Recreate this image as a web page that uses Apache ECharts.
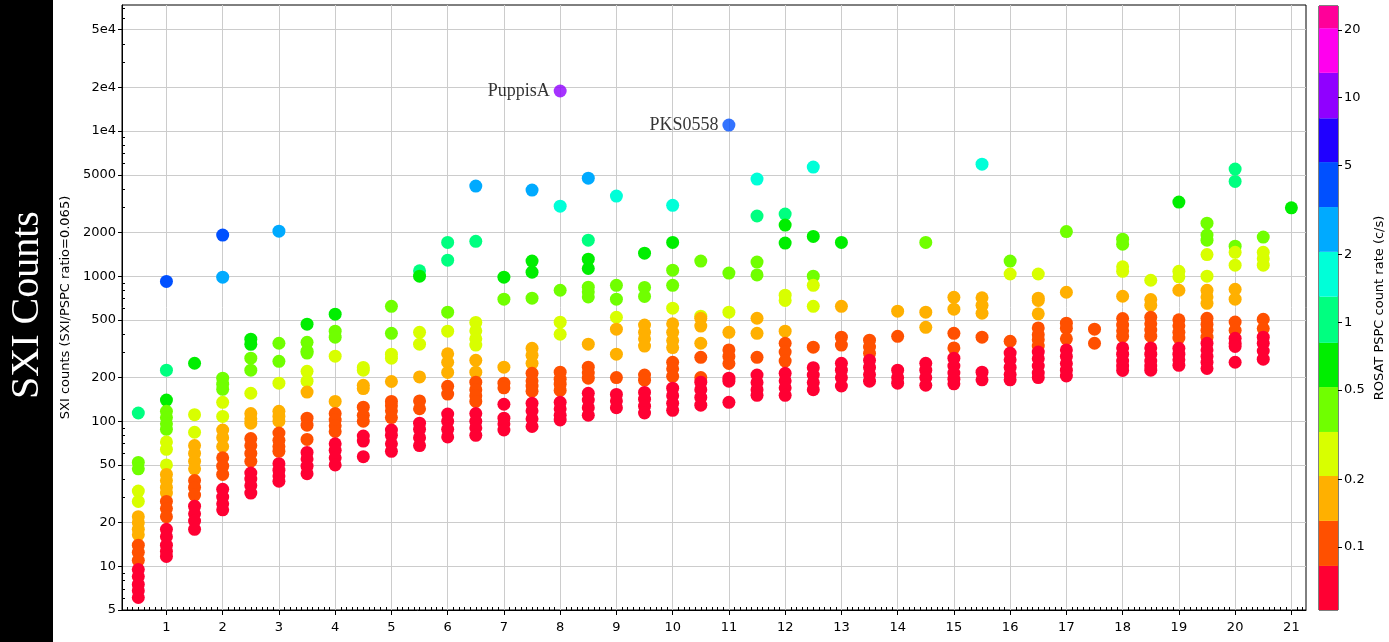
<!DOCTYPE html>
<html>
<head>
<meta charset="utf-8">
<script src="https://cdn.jsdelivr.net/npm/echarts@6/dist/echarts.min.js"></script>
<style>
  html, body { margin: 0; background: #fff; }
  #chart { width: 1389px; height: 642px; }
</style>
</head>
<body>
<div id="chart"></div>
<script>
// sources as [x, SXI counts], one array per ROSAT PSPC count-rate band
const red = [
  [0.5,9.5],[0.5,8.5],[0.5,7.5],[0.5,6.8],[0.5,6.1],
  [1,18],[1,16],[1,14],[1,12.7],[1,11.7],
  [1.5,26],[1.5,23],[1.5,20.5],[1.5,18],
  [2,34],[2,30],[2,27],[2,24.5],
  [2.5,44],[2.5,40],[2.5,36],[2.5,32],
  [3,51],[3,46],[3,42],[3,38.6],
  [3.5,61],[3.5,55],[3.5,49],[3.5,43.5],
  [4,70],[4,63],[4,56],[4,50],
  [4.5,79],[4.5,73],[4.5,57],
  [5,87],[5,80],[5,70],[5,62],
  [5.5,97],[5.5,88],[5.5,77],[5.5,68],
  [6,112],[6,100],[6,88],[6,78],
  [6.5,113],[6.5,100],[6.5,90],[6.5,80],
  [7,131],[7,105],[7,96],[7,87],
  [7.5,133],[7.5,118],[7.5,104],[7.5,92],
  [8,135],[8,122],[8,110],[8,102],
  [8.5,156],[8.5,140],[8.5,124],[8.5,110],
  [9,153],[9,138],[9,124],
  [9.5,158],[9.5,142],[9.5,127],[9.5,114],
  [10,169],[10,150],[10,133],[10,119],
  [10.5,186],[10.5,165],[10.5,146],[10.5,129],
  [11,198],[11,189],[11,135],
  [11.5,208],[11.5,185],[11.5,165],[11.5,151],
  [12,214],[12,190],[12,170],[12,151],
  [12.5,234],[12.5,208],[12.5,185],[12.5,165],
  [13,251],[13,225],[13,200],[13,175],
  [13.5,263],[13.5,235],[13.5,210],[13.5,189],
  [14,225],[14,200],[14,183],
  [14.5,251],[14.5,225],[14.5,200],[14.5,177],
  [15,272],[15,240],[15,215],[15,195],[15,181],
  [15.5,218],[15.5,193],
  [16,295],[16,265],[16,235],[16,210],[16,193],
  [16.5,300],[16.5,270],[16.5,240],[16.5,215],[16.5,200],
  [17,310],[17,280],[17,250],[17,225],[17,205],
  [18,320],[18,290],[18,260],[18,240],[18,224],
  [18.5,320],[18.5,290],[18.5,260],[18.5,240],[18.5,225],
  [19,318],[19,290],[19,265],[19,243],
  [19.5,345],[19.5,310],[19.5,280],[19.5,255],[19.5,231],
  [20,373],[20,345],[20,328],[20,255],
  [20.5,380],[20.5,345],[20.5,305],[20.5,268]
];
const redOrange = [
  [0.5,14],[0.5,12.5],[0.5,11],
  [1,28],[1,25],[1,22],
  [1.5,39],[1.5,35],[1.5,31],
  [2,56],[2,49],[2,43],
  [2.5,76],[2.5,68],[2.5,60],[2.5,53],
  [3,83],[3,74],[3,67],[3,62],
  [3.5,105],[3.5,94],[3.5,75],
  [4,113],[4,102],[4,93],[4,85],
  [4.5,125],[4.5,110],[4.5,100],
  [5,137],[5,128],[5,118],[5,106],
  [5.5,138],[5.5,122],
  [6,174],[6,154],
  [6.5,186],[6.5,165],[6.5,150],[6.5,137],
  [7,183],[7,170],
  [7.5,214],[7.5,190],[7.5,175],[7.5,161],
  [8,218],[8,195],[8,180],[8,163],
  [8.5,236],[8.5,215],[8.5,198],
  [9,200],
  [9.5,208],[9.5,192],
  [10,255],[10,230],[10,204],
  [10.5,276],[10.5,200],
  [11,310],[11,280],[11,250],
  [11.5,276],
  [12,345],[12,300],[12,260],
  [12.5,324],
  [13,380],[13,335],
  [13.5,362],[13.5,325],[13.5,294],
  [14,385],
  [15,404],[15,320],
  [15.5,380],
  [16,356],
  [16.5,440],[16.5,395],[16.5,365],[16.5,330],
  [17,474],[17,437],[17,370],
  [17.5,431],[17.5,345],
  [18,510],[18,460],[18,420],[18,385],
  [18.5,521],[18.5,470],[18.5,425],[18.5,386],
  [19,500],[19,455],[19,410],[19,375],
  [19.5,513],[19.5,465],[19.5,424],[19.5,380],
  [20,483],[20,424],
  [20.5,505],[20.5,435]
];
const orange = [
  [0.5,22],[0.5,20],[0.5,18],[0.5,16.5],
  [1,43],[1,39],[1,35],[1,32],
  [1.5,68],[1.5,60],[1.5,53],[1.5,47],
  [2,87],[2,77],[2,67],
  [2.5,113],[2.5,104],[2.5,97],
  [3,117],[3,108],[3,100],
  [3.5,159],
  [4,137],
  [4.5,177],[4.5,168],
  [5,188],
  [5.5,202],
  [6,292],[6,255],[6,217],
  [6.5,263],[6.5,218],
  [7,236],
  [7.5,318],[7.5,285],[7.5,251],
  [8.5,340],
  [9,431],[9,290],
  [9.5,460],[9.5,410],[9.5,370],[9.5,330],
  [10,470],[10,410],[10,360],[10,322],
  [10.5,513],[10.5,453],[10.5,345],
  [11,410],
  [11.5,513],[11.5,404],
  [12,418],
  [13,620],
  [14,574],
  [14.5,565],[14.5,444],
  [15,715],[15,592],
  [15.5,710],[15.5,630],[15.5,555],
  [16.5,705],[16.5,680],[16.5,550],
  [17,775],
  [18,727],
  [18.5,690],[18.5,630],
  [19,800],
  [19.5,800],[19.5,720],[19.5,650],
  [20,813],[20,694]
];
const yellow = [
  [0.5,33],[0.5,28],
  [1,72],[1,64],[1,50],
  [1.5,111],[1.5,84],
  [2,135],[2,108],
  [2.5,156],
  [3,183],
  [3.5,221],[3.5,189],
  [4,281],
  [4.5,235],[4.5,225],
  [5,290],[5,272],
  [5.5,410],[5.5,340],
  [6,418],
  [6.5,480],[6.5,420],[6.5,370],[6.5,335],
  [8,482],[8,398],
  [9,521],
  [10,602],
  [10.5,530],
  [11,565],
  [12,740],[12,680],
  [12.5,865],[12.5,620],
  [16,1035],
  [16.5,1035],
  [18,1160],[18,1080],
  [18.5,937],
  [19,1080],[19,990],
  [19.5,1410],[19.5,1000],
  [20,1460],[20,1190],
  [20.5,1460],[20.5,1320],[20.5,1190]
];
const lime = [
  [0.5,52],[0.5,47],
  [1,117],[1,106],[1,96],[1,88],
  [2,198],[2,180],[2,166],
  [2.5,272],[2.5,225],
  [3,345],[3,259],
  [3.5,350],[3.5,304],[3.5,295],
  [4,418],[4,380],
  [5,620],[5,404],
  [6,565],
  [7,694],
  [7.5,705],
  [8,800],
  [8.5,840],[8.5,780],[8.5,720],
  [9,865],[9,694],
  [9.5,837],[9.5,725],
  [10,1100],[10,865],
  [10.5,1270],
  [11,1050],
  [11.5,1250],[11.5,1020],
  [12.5,1000],
  [14.5,1710],
  [16,1270],
  [17,2030],
  [18,1800],[18,1660],
  [19.5,2320],[19.5,1920],[19.5,1770],
  [20,1610],
  [20.5,1860]
];
const green = [
  [1,140],[1.5,251],[2.5,368],[2.5,339],[3.5,467],[4,547],[5.5,1000],[7,985],
  [7.5,1270],[7.5,1065],[8.5,1310],[8.5,1130],[9.5,1440],[10,1710],[12,2250],
  [12,1690],[12.5,1880],[13,1710],[19,3240],[21,2960]
];
const spring = [
  [0.5,114],[1,225],[5.5,1090],[6,1710],[6,1290],[6.5,1740],[8.5,1770],
  [11.5,2600],[12,2680],[20,5470],[20,4500]
];
const cyan = [[8,3040],[9,3565],[10,3080],[11.5,4670],[12.5,5650],[15.5,5920]];
const lightBlue = [[2,984],[3,2044],[6.5,4180],[7.5,3920],[8.5,4740]];
const blue = [[1,920],[2,1919]];

// labelled sources: name, x, counts, band index
const named = [['PuppisA', 8, 18900, 11], ['PKS0558', 11, 11000, 9]];

// colour bar: band edges (c/s) and colours, low to high
const bandEdges = [0.0524, 0.0823, 0.1306, 0.207, 0.325, 0.515, 0.81, 1.3, 2.06, 3.26, 5.17, 8.1, 12.9, 20.4, 25.6];
const bandColors = ['#ff0033', '#ff5000', '#ffb000', '#d8ff00', '#70ff00', '#00ee00', '#00ff80',
  '#00ffd8', '#00aaff', '#0050ff', '#2000ff', '#9000ff', '#ff00ee', '#ff0099'];
const bandPoints = [red, redOrange, orange, yellow, lime, green, spring, cyan, lightBlue, blue];

const xTicks = [1,2,3,4,5,6,7,8,9,10,11,12,13,14,15,16,17,18,19,20,21];
const yTicks = [5, 10, 20, 50, 100, 200, 500, 1000, 2000, 5000, 10000, 20000, 50000];
const yTickLabels = ['5','10','20','50','100','200','500','1000','2000','5000','1e4','2e4','5e4'];
const yMinorTicks = [6,7,8,9,30,40,60,70,80,90,300,400,600,700,800,900,3000,4000,6000,7000,8000,9000,
  30000,40000,60000,70000];
const cbTicks = [0.1, 0.2, 0.5, 1, 2, 5, 10, 20];
const cbTickLabels = ['0.1', '0.2', '0.5', '1', '2', '5', '10', '20'];

const xMin = 0.21, xMax = 21.26, yMin = 5, yMax = 74000;

const xMinor = [];
for (let k = 3; k <= 212; k++) if (k % 10) xMinor.push(k / 10);

const lg = v => Math.log10(v);
const labelFrom = (ticks, labels) => v => {
  const i = ticks.findIndex(t => Math.abs(lg(t) - v) < 1e-6);
  return i < 0 ? '' : labels[i];
};
const tickFont = { color: '#000', fontFamily: 'DejaVu Sans', fontSize: 13 };

const series = [];
for (let b = bandPoints.length - 1; b >= 0; b--) {
  series.push({
    type: 'scatter', xAxisIndex: 0, yAxisIndex: 0,
    symbolSize: 13,
    itemStyle: { color: bandColors[b], opacity: 1 },
    data: bandPoints[b]
  });
}
series.push({
  type: 'scatter', xAxisIndex: 0, yAxisIndex: 0, symbolSize: 13,
  data: named.map(n => ({ name: n[0], value: [n[1], n[2]], itemStyle: { color: bandColors[n[3]] } })),
  label: { show: true, position: 'left', distance: 4, formatter: '{b}',
    color: '#000', fontFamily: 'Liberation Serif', fontSize: 18 }
});
series.push({
  type: 'custom', xAxisIndex: 2, yAxisIndex: 3,
  data: bandColors.map((c, i) => [i, bandEdges[i], bandEdges[i + 1]]),
  encode: { x: 0, y: [1, 2] },
  renderItem(params, api) {
    const lo = api.coord([0, api.value(1)]);
    const hi = api.coord([1, api.value(2)]);
    return {
      type: 'rect',
      shape: { x: lo[0], y: hi[1], width: hi[0] - lo[0], height: lo[1] - hi[1] },
      style: { fill: bandColors[api.value(0)] }
    };
  }
});

const chart = echarts.init(document.getElementById('chart'));
chart.setOption({
  animation: false,
  backgroundColor: '#fff',
  graphic: [
    { type: 'rect', left: 0, top: 0, shape: { width: 53, height: 642 }, style: { fill: '#000' } },
    { type: 'text', x: 27, y: 305, rotation: Math.PI / 2,
      style: { text: 'SXI Counts', fill: '#fff', font: '40px "Liberation Serif"',
        textAlign: 'center', textVerticalAlign: 'middle' } }
  ],
  grid: [
    { left: 122, right: 83, top: 5, bottom: 32, show: true, borderColor: '#000', borderWidth: 1,
      backgroundColor: 'transparent', outerBoundsMode: 'none' },
    { left: 1319, width: 19, top: 6, bottom: 32, show: true, borderColor: '#000', borderWidth: 1,
      backgroundColor: 'transparent', outerBoundsMode: 'none' }
  ],
  xAxis: [
    { type: 'value', gridIndex: 0, position: 'bottom', min: xMin, max: xMax, minInterval: 1, maxInterval: 1,
      axisLine: { lineStyle: { color: '#000' } },
      axisTick: { customValues: xTicks, length: 5, lineStyle: { color: '#000' } },
      axisLabel: Object.assign({ customValues: xTicks, margin: 11 }, tickFont),
      splitLine: { show: true, lineStyle: { color: '#cccccc' } } },
    { type: 'value', gridIndex: 0, position: 'bottom', offset: 0, min: xMin, max: xMax,
      minInterval: 1, maxInterval: 1,
      axisLine: { show: false },
      axisTick: { customValues: xMinor, inside: true, length: 3, lineStyle: { color: '#000' } },
      axisLabel: { show: false }, splitLine: { show: false } },
    { type: 'value', gridIndex: 1, min: 0, max: 1, show: false }
  ],
  yAxis: [
    { type: 'log', gridIndex: 0, position: 'left', min: yMin, max: yMax,
      axisLine: { show: true, lineStyle: { color: '#000' } },
      axisTick: { show: false }, axisLabel: { show: false }, splitLine: { show: false } },
    { type: 'value', gridIndex: 0, position: 'left', offset: 0, min: lg(yMin), max: lg(yMax),
      axisLine: { show: false },
      axisTick: { customValues: yTicks.map(lg), length: 4, lineStyle: { color: '#000' } },
      axisLabel: Object.assign({ customValues: yTicks.map(lg), margin: 6,
        formatter: labelFrom(yTicks, yTickLabels) }, tickFont),
      splitLine: { show: true, lineStyle: { color: '#cccccc' } },
      name: 'SXI counts (SXI/PSPC ratio=0.065)', nameLocation: 'middle', nameGap: 47,
      nameTextStyle: tickFont },
    { type: 'value', gridIndex: 0, position: 'left', offset: 0, min: lg(yMin), max: lg(yMax),
      axisLine: { show: false },
      axisTick: { customValues: yMinorTicks.map(lg), inside: true, length: 3, lineStyle: { color: '#000' } },
      axisLabel: { show: false }, splitLine: { show: false } },
    { type: 'log', gridIndex: 1, min: bandEdges[0], max: bandEdges[bandEdges.length - 1], show: false },
    { type: 'value', gridIndex: 1, position: 'right',
      min: lg(bandEdges[0]), max: lg(bandEdges[bandEdges.length - 1]),
      axisLine: { show: false },
      axisTick: { customValues: cbTicks.map(lg), length: 4, lineStyle: { color: '#000' } },
      axisLabel: Object.assign({ customValues: cbTicks.map(lg), margin: 6,
        formatter: labelFrom(cbTicks, cbTickLabels) }, tickFont),
      splitLine: { show: false },
      name: 'ROSAT PSPC count rate (c/s)', nameLocation: 'middle', nameGap: 35,
      nameTextStyle: tickFont }
  ],
  series: series
});
</script>
</body>
</html>
